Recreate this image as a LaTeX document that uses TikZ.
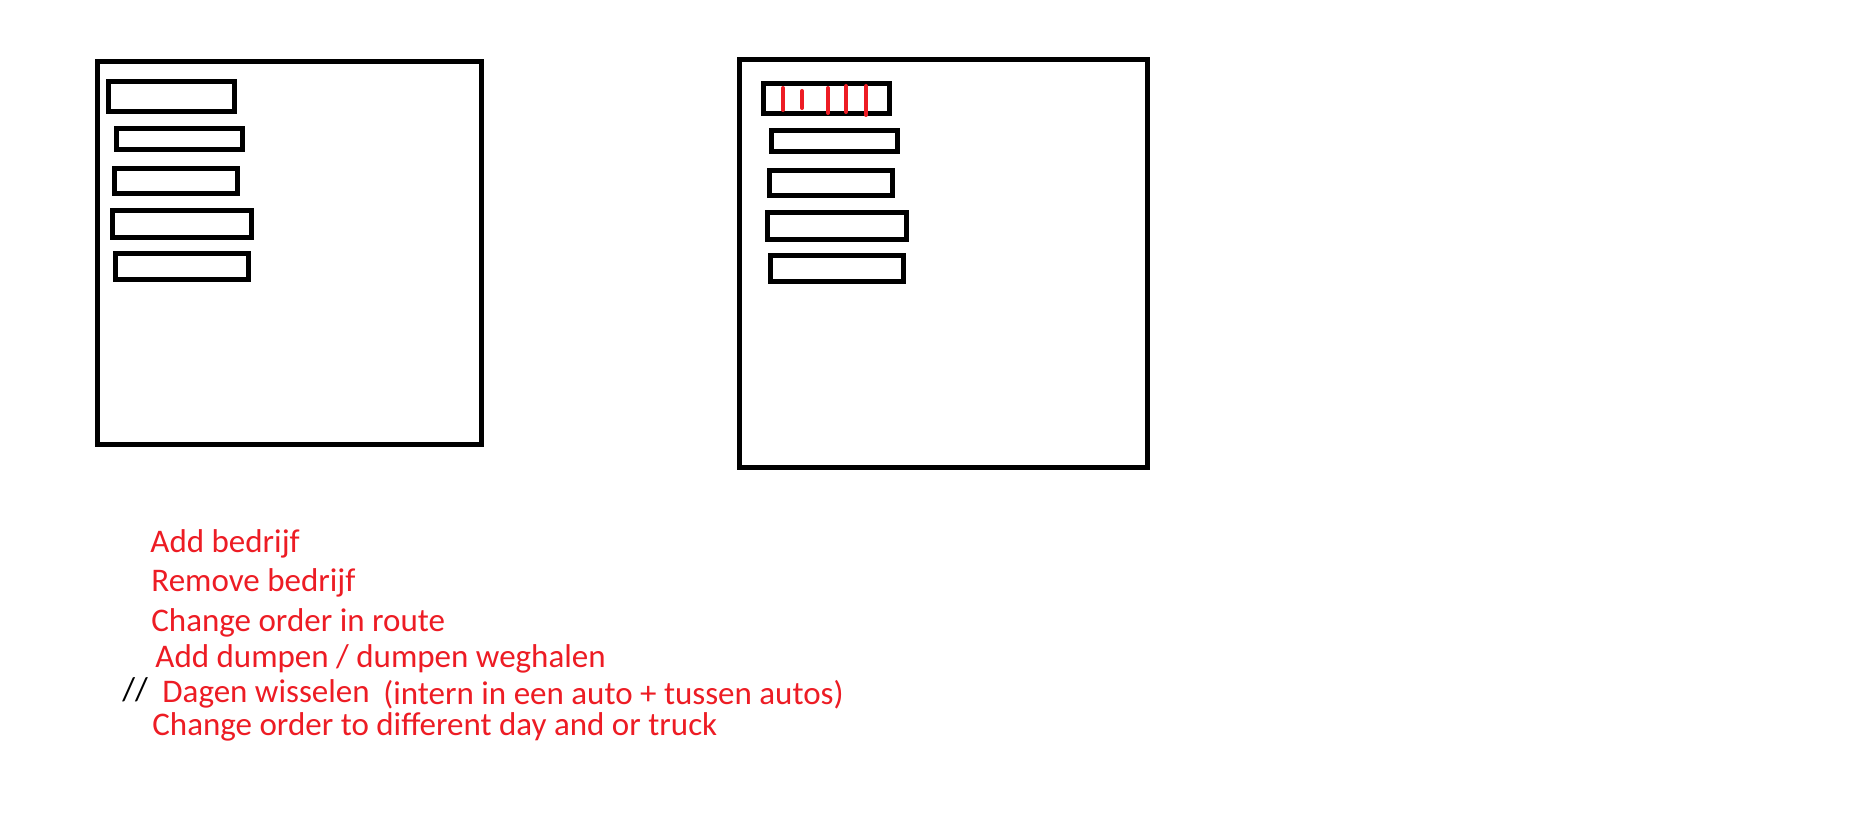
\documentclass[tikz,border=0pt]{standalone}
\usepackage{fontspec}
\setmainfont{Carlito}
\usepackage{tikz}
\definecolor{paintred}{RGB}{237,28,36}
\tikzstyle{screen} = [draw=black, line width=2.5pt]
\tikzstyle{bar} = [draw=black, line width=2.35pt]
\tikzstyle{tick} = [draw=paintred, line width=2pt, line cap=round]
\tikzstyle{note} = [anchor=base west, inner sep=0pt, text=paintred, font=\fontsize{16.5}{19}\selectfont]

\begin{document}
\begin{tikzpicture}[x=0.5pt, y=-0.5pt]

\fill[white] (0,0) rectangle (1865,838);
\useasboundingbox (0,0) rectangle (1865,838);

% first screen
\draw [screen] (97.5,61.5) rectangle (481.5,444.8);
\draw [bar] (108.3,81.3) rectangle (234.7,111.7);
\draw [bar] (116.3,128.3) rectangle (242.7,149.7);
\draw [bar] (114.3,168.3) rectangle (237.7,193.7);
\draw [bar] (112.3,210.3) rectangle (251.7,237.7);
\draw [bar] (115.3,253.3) rectangle (248.7,279.7);

% second screen
\draw [screen] (739.5,59.5) rectangle (1147.5,467.5);
\draw [bar] (763.3,83.3) rectangle (889.7,113.7);
\draw [bar] (771.3,130.3) rectangle (897.7,151.7);
\draw [bar] (769.3,170.3) rectangle (892.7,195.7);
\draw [bar] (767.3,212.3) rectangle (906.7,239.7);
\draw [bar] (770.3,255.3) rectangle (903.7,281.7);

\draw [tick] (783,88) -- (783,110);
\draw [tick] (802,91) -- (802,108);
\draw [tick] (828,88) -- (828,113);
\draw [tick] (846,86) -- (846,112);
\draw [tick] (866,86) -- (866,115);

% notes
\node (add) [note] at (150,553) {Add bedrijf};
\node (remove) [note] at (151,592) {Remove bedrijf};
\node (reorder) [note] at (151,632) {Change order in route};
\node (dump) [note] at (155,668) {Add dumpen / dumpen weghalen};
\node (mark) [note, text=black] at (122,701) {//};
\node (swap) [note] at (162,703) {Dagen wisselen};
\node (swapnote) [note] at (383,705) {(intern in een auto + tussen autos)};
\node (move) [note] at (152,736) {Change order to different day and or truck};

\end{tikzpicture}
\end{document}
